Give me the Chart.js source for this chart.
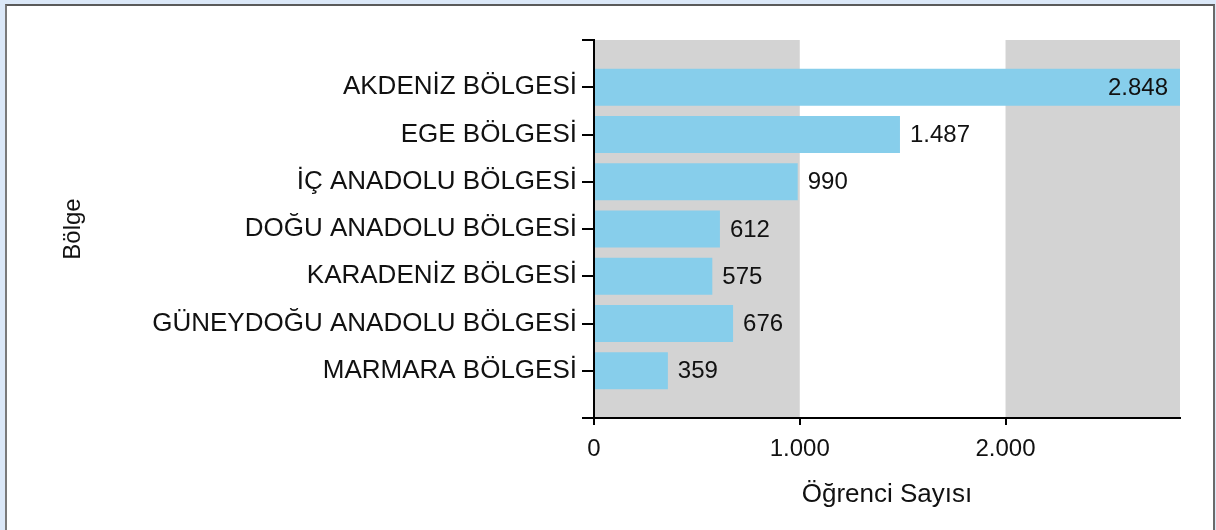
<!DOCTYPE html>
<html>
<head>
<meta charset="utf-8">
<script src="https://cdn.jsdelivr.net/npm/chart.js@4/dist/chart.umd.min.js"></script>
<style>
  html, body { margin: 0; padding: 0; width: 1216px; height: 530px; overflow: hidden; background: #dbe8f8; }
  #frame { position: absolute; left: 5px; top: 4px; width: 1206px; height: 600px; background: #fff;
           border-left: 2px solid #7a7a7a; border-top: 2px solid #5a5a5a; border-right: 2px solid #6a6a6a; }
  #c { position: absolute; left: 0; top: 0; }
</style>
</head>
<body>
<div id="frame"></div>
<canvas id="c" width="1216" height="530"></canvas>
<script>
const categories = [
  'AKDENİZ BÖLGESİ',
  'EGE BÖLGESİ',
  'İÇ ANADOLU BÖLGESİ',
  'DOĞU ANADOLU BÖLGESİ',
  'KARADENİZ BÖLGESİ',
  'GÜNEYDOĞU ANADOLU BÖLGESİ',
  'MARMARA BÖLGESİ'
];
const values = [2848, 1487, 990, 612, 575, 676, 359];
const xTicks = [0, 1000, 2000];
const xMax = 2848;
const xTitle = 'Öğrenci Sayısı';
const yTitle = 'Bölge';

function fmt(n) {
  return String(Math.round(n)).replace(/\B(?=(\d{3})+(?!\d))/g, '.');
}

const FONT = "'Liberation Sans', Arial, sans-serif";
const TEXT = '#111';

const bandPlugin = {
  id: 'bands',
  beforeDraw(chart) {
    const { ctx, chartArea: a, scales: { x } } = chart;
    ctx.save();
    ctx.fillStyle = '#d3d3d3';
    const bands = [[0, 1000], [2000, xMax]];
    for (const [s, e] of bands) {
      const x0 = x.getPixelForValue(s), x1 = x.getPixelForValue(Math.min(e, xMax));
      ctx.fillRect(x0, a.top, x1 - x0, a.bottom - a.top);
    }
    ctx.restore();
  }
};

const valueLabelPlugin = {
  id: 'valueLabels',
  afterDatasetsDraw(chart) {
    const { ctx, chartArea: a } = chart;
    const meta = chart.getDatasetMeta(0);
    ctx.save();
    ctx.font = '24px ' + FONT;
    ctx.fillStyle = TEXT;
    ctx.textBaseline = 'middle';
    meta.data.forEach((bar, i) => {
      const v = chart.data.datasets[0].data[i];
      if (v == null) return;
      const t = fmt(v);
      const w = ctx.measureText(t).width;
      if (bar.x + 10 + w > a.right) {
        ctx.textAlign = 'right';
        ctx.fillText(t, bar.x - 12, bar.y + 1);
      } else {
        ctx.textAlign = 'left';
        ctx.fillText(t, bar.x + 10, bar.y + 1);
      }
    });
    ctx.restore();
  }
};

const labels = ['', ...categories, ''];
const data = [null, ...values, null];

new Chart(document.getElementById('c'), {
  type: 'bar',
  data: {
    labels: labels,
    datasets: [{
      data: data,
      backgroundColor: '#87ceeb',
      borderWidth: 0,
      barPercentage: 0.78,
      categoryPercentage: 1
    }]
  },
  options: {
    indexAxis: 'y',
    responsive: false,
    animation: false,
    devicePixelRatio: 1,
    layout: { padding: { left: 0, top: 40, right: 36, bottom: 0 } },
    plugins: { legend: { display: false }, tooltip: { enabled: false } },
    scales: {
      x: {
        type: 'linear',
        min: 0,
        max: xMax,
        afterFit(s) { s.height = 112; },
        afterBuildTicks(s) { s.ticks = xTicks.map(v => ({ value: v })); },
        ticks: {
          includeBounds: false,
          padding: 10,
          color: TEXT,
          font: { family: FONT, size: 24 },
          maxRotation: 0,
          callback: v => fmt(v)
        },
        grid: { drawOnChartArea: false, drawTicks: true, tickLength: 7, color: '#000', lineWidth: 2 },
        border: { display: true, color: '#000', width: 2 },
        title: { display: true, text: xTitle, color: TEXT, font: { family: FONT, size: 26 }, padding: { top: 0, bottom: 20 } }
      },
      y: {
        type: 'category',
        offset: false,
        afterFit(s) { s.width = 594; },
        ticks: {
          padding: 5,
          color: TEXT,
          font: { family: FONT, size: 26 },
          autoSkip: false
        },
        grid: { offset: false, drawOnChartArea: false, drawTicks: true, tickLength: 12, color: '#000', lineWidth: 2 },
        border: { display: true, color: '#000', width: 2 },
        title: { display: true, text: yTitle, color: TEXT, font: { family: FONT, size: 24 }, padding: { top: 59, bottom: 0 } }
      }
    }
  },
  plugins: [bandPlugin, valueLabelPlugin]
});
</script>
</body>
</html>
